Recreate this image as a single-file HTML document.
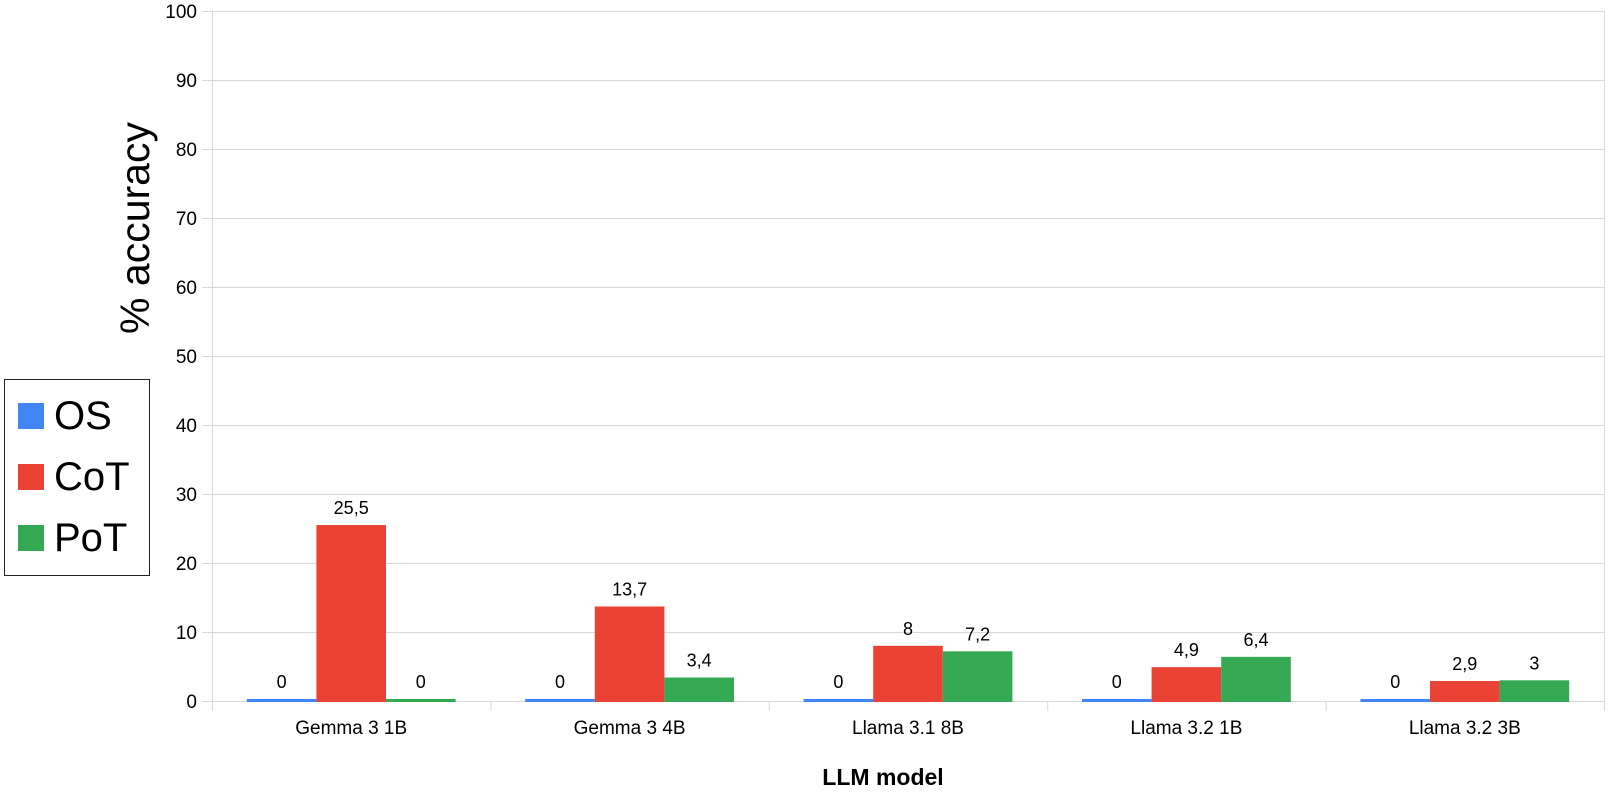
<!DOCTYPE html>
<html><head><meta charset="utf-8"><style>
body{margin:0;background:#fff;font-family:"Liberation Sans",sans-serif;}
svg text{font-family:"Liberation Sans",sans-serif;}
</style></head><body>
<svg id="chart" width="1609" height="788">
<g id="grid"></g>
<g id="bars"></g>
<g id="labels"></g>
<text transform="translate(149,228) rotate(-90)" text-anchor="middle" font-size="41">% accuracy</text>
<text x="883" y="785" text-anchor="middle" font-size="23" font-weight="bold">LLM model</text>
<g>
<rect x="4.5" y="379.5" width="145" height="196" fill="#fff" stroke="#222" stroke-width="1"/>
<rect x="18" y="403" width="26" height="26" fill="#4285f4"/>
<text x="54" y="429" font-size="40">OS</text>
<rect x="18" y="464" width="26" height="26" fill="#ea4335"/>
<text x="54" y="490" font-size="40">CoT</text>
<rect x="18" y="525" width="26" height="26" fill="#34a853"/>
<text x="54" y="551" font-size="40">PoT</text>
</g>
</svg>
<script>
const categories = ["Gemma 3 1B","Gemma 3 4B","Llama 3.1 8B","Llama 3.2 1B","Llama 3.2 3B"];
const osValues = [0,0,0,0,0];
const cotValues = [25.5,13.7,8,4.9,2.9];
const potValues = [0,3.4,7.2,6.4,3];
const yTicks = [0,10,20,30,40,50,60,70,80,90,100];
const seriesNames = ["os","cot","pot"];
const seriesColors = ["#4285f4","#ea4335","#34a853"];

const NS="http://www.w3.org/2000/svg";
const X0=212,X1=1604,Y0=701,Y100=11;
const gw=(X1-X0)/categories.length, bw=gw/4;
const y=v=>Y0-(v/100)*(Y0-Y100);
function mk(tag,attrs,parent){const e=document.createElementNS(NS,tag);for(const k in attrs)e.setAttribute(k,attrs[k]);parent.appendChild(e);return e;}
const grid=document.getElementById('grid'),bars=document.getElementById('bars'),labels=document.getElementById('labels');
yTicks.forEach(t=>{
  const l=mk('line',{x1:X0-10,x2:X1,y1:y(t)+.5,y2:y(t)+.5,stroke:'#d9d9d9','stroke-width':1},grid);
  
  
  const tx=mk('text',{x:197,y:y(t)+7,'text-anchor':'end','font-size':19},grid);
  tx.textContent=t;
  
  
});
const ax=mk('line',{x1:X0+.5,x2:X0+.5,y1:Y100,y2:Y0+10,stroke:'#d9d9d9'},grid);


const ax2=mk('line',{x1:X1+.5,x2:X1+.5,y1:Y100,y2:Y0+10,stroke:'#d9d9d9'},grid);


for(let i=1;i<categories.length;i++){
  const d=mk('line',{x1:X0+gw*i+.5,x2:X0+gw*i+.5,y1:Y0,y2:Y0+10,stroke:'#d9d9d9'},grid);
  
  
}
const all=[osValues,cotValues,potValues];
categories.forEach((c,i)=>{
  const gx=X0+gw*i;
  all.forEach((vals,s)=>{
    const v=vals[i];
    const bx=gx+bw*0.5+bw*s;
    const top=Math.min(y(v),Y0-2);
    const r=mk('rect',{x:bx,y:top,width:bw,height:Y0+1-top,fill:seriesColors[s]},bars);
    
    
    const t=mk('text',{x:bx+bw/2,y:top-11,'text-anchor':'middle','font-size':18},labels);
    t.textContent=String(v).replace('.',',');
    
    
  });
  const cl=mk('text',{x:gx+gw/2,y:734,'text-anchor':'middle','font-size':19},labels);
  cl.textContent=c;
  
  
});
</script>
</body></html>
